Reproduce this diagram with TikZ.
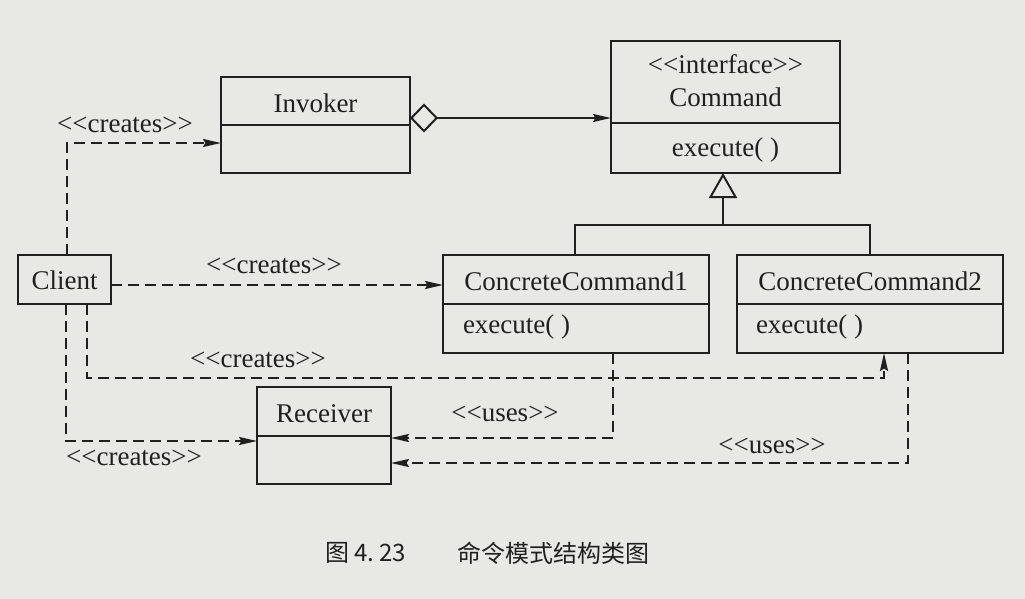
\documentclass[tikz,border=0pt]{standalone}
\usepackage{fontspec}
\setmainfont{Liberation Serif}
\newfontfamily\cjk{Noto Sans CJK SC}
\usetikzlibrary{arrows.meta,calc}
\definecolor{paper}{RGB}{232,232,228}
\definecolor{ink}{RGB}{32,32,32}
\begin{document}
\begin{tikzpicture}[x=1pt,y=-1pt,
  every node/.style={inner sep=0pt,outer sep=0pt,text=ink,font=\fontsize{27}{30}\selectfont},
  box/.style={draw=ink,line width=2.4pt,rectangle,anchor=north west},
  divider/.style={draw=ink,line width=2.2pt},
  conn/.style={draw=ink,line width=2pt},
  dep/.style={conn,dash pattern=on 11pt off 6pt},
  tip/.style={-{Stealth[length=18pt,width=8pt,inset=2.5pt]}},
  lbl/.style={anchor=base},
  captext/.style={font=\cjk\fontsize{24}{26}\selectfont,anchor=west}
]
\useasboundingbox[fill=paper] (0,0) rectangle (1025,599);

% classes
\node[box,minimum width=189pt,minimum height=96pt] (inv) at (221,77) {};
\draw[divider] (inv.west |- 0,125) -- (inv.east |- 0,125);
\node[lbl] (invT) at (315.5,113) {Invoker};

\node[box,minimum width=229pt,minimum height=132pt] (cmd) at (611,41) {};
\draw[divider] (cmd.west |- 0,123) -- (cmd.east |- 0,123);
\node[lbl] (cmdS) at (725.5,74) {<{}<interface>{}>};
\node[lbl] (cmdT) at (725.5,107) {Command};
\node[lbl] (cmdE) at (725.5,157) {execute( )};

\node[box,minimum width=266pt,minimum height=98pt] (cc1) at (443,255) {};
\draw[divider] (cc1.west |- 0,304) -- (cc1.east |- 0,304);
\node[lbl] (cc1T) at (576,290) {ConcreteCommand1};
\node[anchor=base west] (cc1E) at (463,333) {execute( )};

\node[box,minimum width=266pt,minimum height=98pt] (cc2) at (737,255) {};
\draw[divider] (cc2.west |- 0,304) -- (cc2.east |- 0,304);
\node[lbl] (cc2T) at (870,290) {ConcreteCommand2};
\node[anchor=base west] (cc2E) at (756,333) {execute( )};

\node[box,minimum width=93pt,minimum height=49pt] (client) at (18,255) {};
\node[lbl] (clientT) at (64.5,289) {Client};

\node[box,minimum width=134pt,minimum height=97pt] (rec) at (257,387) {};
\draw[divider] (rec.west |- 0,436) -- (rec.east |- 0,436);
\node[lbl] (recT) at (324,422) {Receiver};

% aggregation Invoker -> Command
\draw[conn,{Diamond[fill=paper,length=28pt,width=29pt]}-{Stealth[length=18pt,width=8pt,inset=2.5pt]}]
  (inv.east |- 0,118) -- (cmd.west |- 0,118);

% generalization
\coordinate (j) at (723,225);
\draw[conn] (cc1.north -| 575,0) |- (j);
\draw[conn] (cc2.north -| 870,0) |- (j);
\draw[conn,-{Triangle[fill=paper,length=25pt,width=28pt]}] (j) -- (cmd.south -| j);

% dependencies
\draw[dep,tip] (client.north -| 67,0) |- (inv.west |- 0,143);
\draw[dep,tip] (client.east |- 0,285) -- (cc1.west |- 0,285);
\coordinate (b3) at (884,378);
\draw[dep,tip] (client.south -| 87,0) |- (b3) -- (cc2.south -| b3);
\draw[dep,tip] (client.south -| 66,0) |- (rec.west |- 0,441);
\draw[dep,tip] (cc1.south -| 613,0) |- (rec.east |- 0,438);
\draw[dep,tip] (cc2.south -| 908,0) |- (rec.east |- 0,463);

% labels
\node[lbl] (l1) at (125,132) {<{}<creates>{}>};
\node[lbl] (l2) at (274,273) {<{}<creates>{}>};
\node[lbl] (l3) at (258,367) {<{}<creates>{}>};
\node[lbl] (l4) at (134,465) {<{}<creates>{}>};
\node[lbl] (u1) at (505,421) {<{}<uses>{}>};
\node[lbl] (u2) at (772,453) {<{}<uses>{}>};

% caption
\node[captext] (c1) at (325,553) {图 4.\hspace{5pt}23};
\node[captext] (c2) at (457,553) {命令模式结构类图};
\end{tikzpicture}
\end{document}
